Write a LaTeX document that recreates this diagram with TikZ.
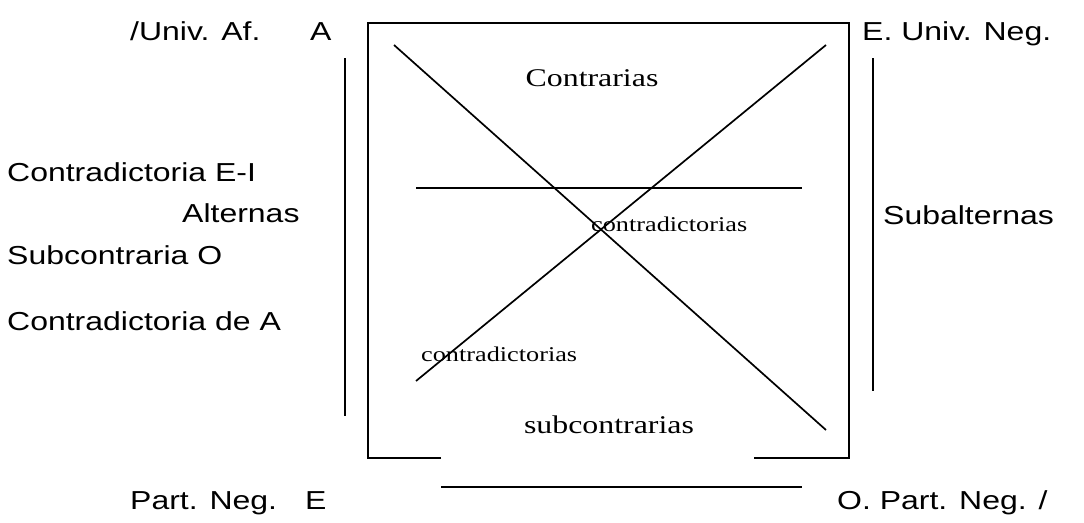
\documentclass[tikz,border=0pt]{standalone}
\usepackage{fontspec}
\newfontfamily\arialx{Liberation Sans}[FakeStretch=1.23]
\newfontfamily\timesx{Liberation Serif}[FakeStretch=1.25]
\begin{document}
\begin{tikzpicture}[x=1pt,y=-1pt,
  ln/.style={line width=1.7pt},
  sans/.style={inner sep=0pt,font=\arialx\fontsize{26}{30}\selectfont},
  serif/.style={inner sep=0pt,font=\timesx\fontsize{25.5}{30}\selectfont},
  small/.style={inner sep=0pt,font=\timesx\fontsize{21}{24}\selectfont}]
\useasboundingbox (0,0) rectangle (1084,522);
% coordinates
\coordinate (bl) at (368,458);
\coordinate (tl) at (368,23);
\coordinate (tr) at (849,23);
\coordinate (br) at (849,458);
\coordinate (gapL) at (441,458);
\coordinate (gapR) at (754,458);
\coordinate (lowL) at (441,487);
\coordinate (lowR) at (802,487);
\coordinate (d1a) at (394,45);
\coordinate (d1b) at (826,430);
\coordinate (d2a) at (826,45);
\coordinate (d2b) at (416,381);
\coordinate (hA) at (416,188);
\coordinate (hB) at (802,188);
\coordinate (vLa) at (345,58);
\coordinate (vLb) at (345,416);
\coordinate (vRa) at (873,58);
\coordinate (vRb) at (873,391);
% box
\draw[ln] (gapL) -- (bl) -- (tl) -- (tr) -- (br) -- (gapR);
\draw[ln] (lowL) -- (lowR);
\draw[ln] (d1a) -- (d1b);
\draw[ln] (d2a) -- (d2b);
\draw[ln] (hA) -- (hB);
\draw[ln] (vLa) -- (vLb);
\draw[ln] (vRa) -- (vRb);
% labels
\node[sans,anchor=base west] (ua) at (130,40) {/Univ. Af.};
\node[sans,anchor=base west] (A) at (310,40) {A};
\node[sans,anchor=base west] (eun) at (862,40) {E. Univ. Neg.};
\node[serif,anchor=base] (contr) at (592,86) {Contrarias};
\node[sans,anchor=base west] (cei) at (7,181) {Contradictoria E-I};
\node[sans,anchor=base west] (alt) at (182,222) {Alternas};
\node[sans,anchor=base west] (sco) at (7,264) {Subcontraria O};
\node[sans,anchor=base west] (cda) at (7,330) {Contradictoria de A};
\node[sans,anchor=base west] (sub) at (883,224) {Subalternas};
\node[small,anchor=base west] (cm) at (591,231) {contradictorias};
\node[small,anchor=base west] (cl) at (421,361) {contradictorias};
\node[serif,anchor=base] (subc) at (609,433) {subcontrarias};
\node[sans,anchor=base west] (pn) at (130,509) {Part. Neg.};
\node[sans,anchor=base west] (E) at (305,509) {E};
\node[sans,anchor=base west] (opn) at (837,509) {O. Part. Neg. /};
\end{tikzpicture}
\end{document}
